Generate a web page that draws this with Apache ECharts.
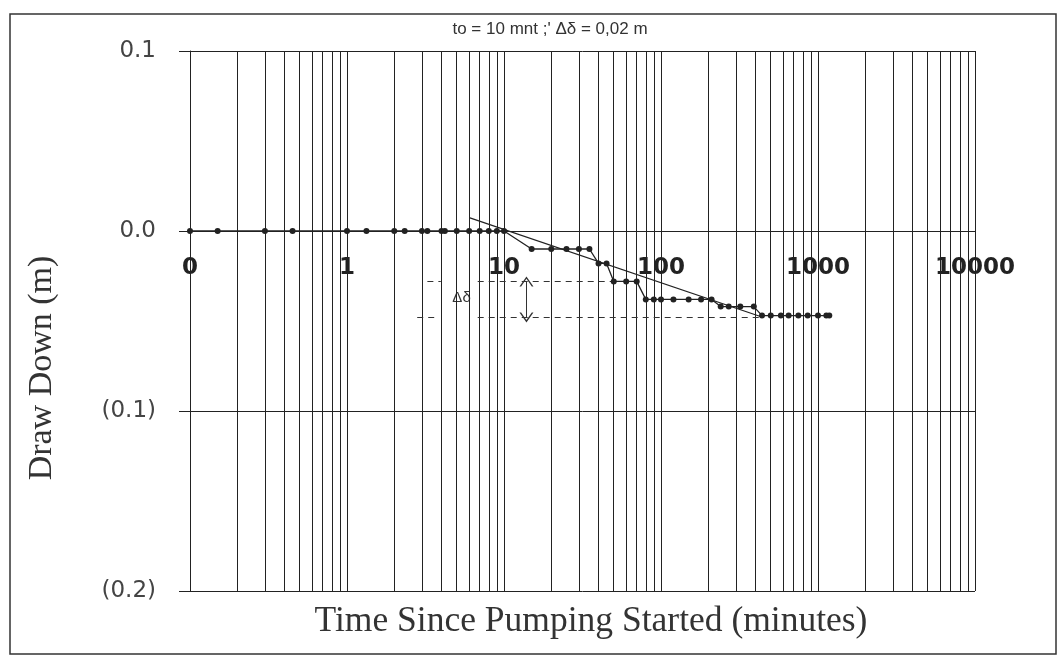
<!DOCTYPE html>
<html><head><meta charset="utf-8">
<script src="https://cdn.jsdelivr.net/npm/echarts@6/dist/echarts.min.js"></script>
<style>html,body{margin:0;padding:0;background:#fff}#c{width:1064px;height:662px}</style>
</head><body><div id="c"></div>
<script>
// ---- data ----
const chartTitle = "to = 10 mnt ;' \u0394\u03b4 = 0,02 m";
const xAxisName = "Time Since Pumping Started (minutes)";
const yAxisName = "Draw Down (m)";
const xTickLabels = ["0", "1", "10", "100", "1000", "10000"];
const timeMinutes = [0.1, 0.15, 0.3, 0.45, 1, 1.33, 2, 2.33, 3, 3.25, 4, 4.2, 5, 6, 7, 8, 9, 10,
  15, 20, 25, 30, 35,
  40, 45,
  50, 60, 70,
  80, 90, 100, 120, 150, 180, 210,
  240, 270, 320, 390,
  440, 500, 580, 650, 750, 860, 1000, 1130, 1180];
const drawDown = [0, 0, 0, 0, 0, 0, 0, 0, 0, 0, 0, 0, 0, 0, 0, 0, 0, 0,
  -0.010, -0.010, -0.010, -0.010, -0.010,
  -0.018, -0.018,
  -0.028, -0.028, -0.028,
  -0.038, -0.038, -0.038, -0.038, -0.038, -0.038, -0.038,
  -0.042, -0.042, -0.042, -0.042,
  -0.047, -0.047, -0.047, -0.047, -0.047, -0.047, -0.047, -0.047, -0.047];
const fitTime = [6, 430];
const fitDrawDown = [0.0074, -0.0475];
const deltaLevels = [-0.028, -0.048];           // dashed guide levels (Δδ = 0.02 m)
const upperDashTime = [[3.25, 3.96], [6.8, 72]];
const lowerDashTime = [[2.8, 3.86], [6.8, 420]];
const deltaBoxTime = [3.3, 6.7];
const deltaArrowTime = 13.9;
const deltaLabel = "\u0394\u03b4";

// ---- build ----
const points = timeMinutes.map((t, i) => [t, drawDown[i]]);
const fitPoints = fitTime.map((t, i) => [t, fitDrawDown[i]]);
const minorGrid = [];
for (let k = -1; k <= 3; k++) for (let m = 2; m <= 9; m++) minorGrid.push({ xAxis: +(m * Math.pow(10, k)).toPrecision(3) });

const dashSegs = [];
upperDashTime.forEach(s => dashSegs.push([{ coord: [s[0], deltaLevels[0]] }, { coord: [s[1], deltaLevels[0]] }]));
lowerDashTime.forEach(s => dashSegs.push([{ coord: [s[0], deltaLevels[1]] }, { coord: [s[1], deltaLevels[1]] }]));

const chevron = 'path://M0,10 L5,0 L10,10 L8.8,10 L5,2.4 L1.2,10 Z';
const ink = '#222';

const gridTop = 51, gridBottom = 71, gridHeight = 662 - gridTop - gridBottom;
const yMin = -0.2, yMax = 0.1;
const zeroOffset = -gridHeight * (0 - yMin) / (yMax - yMin);   // lift x axis to y = 0

const chart = echarts.init(document.getElementById('c'));
chart.setOption({
  animation: false,
  backgroundColor: '#fff',
  grid: { left: 190, right: 89, top: gridTop, bottom: gridBottom, containLabel: false },
  xAxis: {
    type: 'log', logBase: 10, min: 0.1, max: 10000,
    position: 'bottom', offset: zeroOffset,
    axisLine: { show: true, onZero: false, lineStyle: { color: ink, width: 1 } },
    axisTick: { show: false },
    axisLabel: {
      margin: 26, fontFamily: 'DejaVu Sans', fontWeight: 'bold', fontSize: 23, color: ink,
      showMinLabel: true, showMaxLabel: true,
      formatter: v => xTickLabels[Math.round(Math.log10(v)) + 1]
    },
    splitLine: { show: true, lineStyle: { color: ink, width: 1 } }
  },
  yAxis: {
    type: 'value', min: yMin, max: yMax, interval: 0.1,
    axisLine: { show: true, onZero: false, lineStyle: { color: ink, width: 1 } },
    axisTick: { show: true, length: 11, lineStyle: { color: ink } },
    axisLabel: {
      margin: 34, fontFamily: 'DejaVu Sans', fontSize: 23, color: '#444',
      formatter: v => v > 1e-6 ? v.toFixed(1) : (v < -1e-6 ? '(' + Math.abs(v).toFixed(1) + ')' : '0.0')
    },
    splitLine: { show: true, lineStyle: { color: ink, width: 1 } }
  },
  graphic: [
    { type: 'rect', shape: { x: 10, y: 14, width: 1046, height: 640 }, style: { fill: 'none', stroke: '#333', lineWidth: 1.5 }, silent: true },
    { type: 'text', x: 550, y: 29, style: { text: chartTitle, font: '17px "Liberation Sans", Arial, sans-serif', fill: '#333', textAlign: 'center', textVerticalAlign: 'middle' } },
    { type: 'text', x: 42, y: 368, rotation: Math.PI / 2, style: { text: yAxisName, font: '34px "Liberation Serif", "Times New Roman", serif', fill: '#333', textAlign: 'center', textVerticalAlign: 'middle' } },
    { type: 'text', x: 591, y: 622, style: { text: xAxisName, font: '35.5px "Liberation Serif", "Times New Roman", serif', fill: '#333', textAlign: 'center', textVerticalAlign: 'middle' } }
  ],
  series: [
    {
      name: 'minor grid', type: 'line', z: 1, silent: true,
      data: [[1, 0]], showSymbol: false, lineStyle: { opacity: 0 },
      markLine: { silent: true, symbol: ['none', 'none'], label: { show: false },
        lineStyle: { color: ink, width: 1, type: 'solid' }, data: minorGrid }
    },
    {
      name: 'delta box', type: 'line', z: 3, silent: true,
      data: [], showSymbol: false,
      markArea: { silent: true, itemStyle: { color: '#fff', opacity: 1 },
        label: { show: true, position: 'inside', offset: [9, -2], formatter: deltaLabel,
          fontFamily: '"Liberation Sans", Arial, sans-serif', fontSize: 15, color: '#333' },
        data: [[{ coord: [deltaBoxTime[0], deltaLevels[0]] }, { coord: [deltaBoxTime[1], deltaLevels[1]] }]] }
    },
    {
      name: 'delta guides', type: 'line', z: 4, silent: true,
      data: [], showSymbol: false,
      markLine: { silent: true, symbol: ['none', 'none'], label: { show: false },
        lineStyle: { color: '#333', width: 1, type: [6, 5] }, data: dashSegs }
    },
    {
      name: 'delta arrow', type: 'line', z: 4, silent: true,
      data: [], showSymbol: false,
      markLine: { silent: true, symbol: [chevron, chevron], symbolSize: [14, 10], label: { show: false },
        lineStyle: { color: '#333', width: 1, type: 'solid' },
        data: [[{ coord: [deltaArrowTime, deltaLevels[0]] }, { coord: [deltaArrowTime, deltaLevels[1]] }]] }
    },
    {
      name: 'fit', type: 'line', z: 5, data: fitPoints, showSymbol: false,
      lineStyle: { color: ink, width: 1.2 }
    },
    {
      name: 'drawdown', type: 'line', z: 6, data: points,
      symbol: 'circle', symbolSize: 6, showSymbol: true,
      itemStyle: { color: ink }, lineStyle: { color: ink, width: 1.3 }
    }
  ]
});
</script></body></html>
